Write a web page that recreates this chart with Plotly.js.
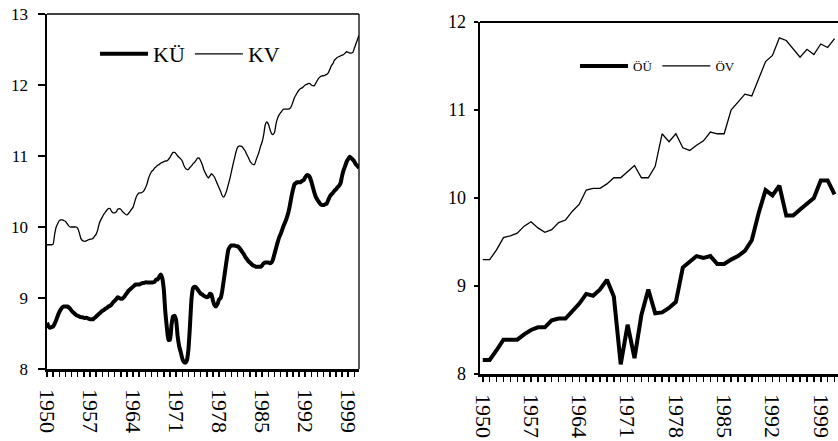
<!DOCTYPE html>
<html>
<head>
<meta charset="utf-8">
<script src="https://cdn.plot.ly/plotly-3.0.1.min.js"></script>
<style>html,body{margin:0;padding:0;background:#fff;}#chart{width:838px;height:441px;}</style>
</head>
<body>
<div id="chart"></div>
<script>
// Quarterly series (left panel), 1950Q1 .. 2000Q4
const quarterStartYear = 1950;
const quarterEndYear = 2000;
const KU = [
  8.65,8.60,8.58,8.59, 8.60,8.64,8.69,8.75, 8.80,8.84,8.87,8.88, 8.88,8.88,8.87,8.85,
  8.82,8.80,8.78,8.76, 8.75,8.74,8.73,8.73, 8.72,8.72,8.72,8.71, 8.70,8.70,8.70,8.72,
  8.74,8.76,8.78,8.80, 8.82,8.83,8.85,8.86, 8.88,8.89,8.91,8.94, 8.96,8.98,9.01,9.00,
  8.99,8.99,9.01,9.04, 9.07,9.10,9.12,9.14, 9.16,9.18,9.19,9.19, 9.19,9.20,9.21,9.21,
  9.22,9.22,9.22,9.22, 9.22,9.22,9.23,9.26, 9.26,9.30,9.33,9.28, 9.12,8.80,8.58,8.41,
  8.41,8.62,8.74,8.75, 8.69,8.46,8.32,8.24, 8.15,8.10,8.09,8.12, 8.27,8.60,8.98,9.14,
  9.16,9.15,9.12,9.09, 9.06,9.05,9.03,9.02, 9.01,9.02,9.06,9.05, 8.96,8.90,8.88,8.92,
  8.98,9.00,9.10,9.25, 9.40,9.55,9.68,9.72, 9.74,9.74,9.74,9.73, 9.73,9.71,9.68,9.65,
  9.62,9.58,9.55,9.52, 9.50,9.48,9.46,9.45, 9.44,9.44,9.44,9.44, 9.46,9.49,9.50,9.50,
  9.50,9.49,9.50,9.54, 9.62,9.70,9.78,9.85, 9.90,9.96,10.02,10.07, 10.13,10.20,10.30,10.42,
  10.52,10.60,10.62,10.63, 10.63,10.63,10.65,10.66, 10.70,10.73,10.73,10.70, 10.64,10.56,10.48,10.42,
  10.38,10.35,10.32,10.31, 10.31,10.32,10.33,10.38, 10.43,10.46,10.48,10.51, 10.53,10.56,10.58,10.62,
  10.72,10.80,10.86,10.92, 10.96,10.99,10.97,10.95, 10.92,10.88,10.86,10.83
];
const KV = [
  9.75,9.75,9.75,9.75, 9.76,9.90,10.00,10.05, 10.09,10.10,10.10,10.09, 10.08,10.05,10.02,10.00,
  10.00,10.00,10.00,10.00, 9.98,9.92,9.84,9.81, 9.80,9.80,9.81,9.82, 9.83,9.83,9.84,9.87,
  9.90,9.96,10.05,10.10, 10.14,10.18,10.21,10.24, 10.26,10.26,10.22,10.20, 10.20,10.21,10.25,10.26,
  10.25,10.22,10.20,10.18, 10.17,10.19,10.22,10.25, 10.28,10.35,10.42,10.46, 10.48,10.48,10.49,10.51,
  10.55,10.60,10.68,10.74, 10.78,10.80,10.83,10.85, 10.87,10.88,10.90,10.91, 10.92,10.93,10.93,10.95,
  10.98,11.02,11.05,11.05, 11.03,11.00,10.98,10.96, 10.93,10.87,10.83,10.81, 10.81,10.84,10.86,10.89,
  10.91,10.94,10.97,10.97, 10.93,10.88,10.81,10.76, 10.72,10.69,10.72,10.75, 10.73,10.70,10.65,10.60,
  10.55,10.50,10.44,10.42, 10.46,10.52,10.60,10.68, 10.78,10.88,10.97,11.06, 11.12,11.14,11.14,11.13,
  11.10,11.07,11.02,10.98, 10.93,10.90,10.88,10.88, 10.94,11.00,11.06,11.14, 11.20,11.30,11.44,11.48,
  11.45,11.38,11.32,11.30, 11.33,11.45,11.53,11.58, 11.61,11.64,11.66,11.66, 11.66,11.66,11.67,11.70,
  11.76,11.82,11.86,11.90, 11.93,11.95,11.96,11.98, 12.00,12.01,12.02,12.02, 12.00,11.99,11.99,12.03,
  12.07,12.10,12.12,12.13, 12.13,12.14,12.15,12.17, 12.22,12.27,12.30,12.35, 12.37,12.39,12.40,12.41,
  12.42,12.43,12.45,12.47, 12.46,12.45,12.45,12.46, 12.52,12.58,12.64,12.70
];

// Annual series (right panel), 1950 .. 2001
const annualYears = [1950,1951,1952,1953,1954,1955,1956,1957,1958,1959,1960,1961,1962,1963,1964,1965,1966,1967,1968,1969,1970,1971,1972,1973,1974,1975,1976,1977,1978,1979,1980,1981,1982,1983,1984,1985,1986,1987,1988,1989,1990,1991,1992,1993,1994,1995,1996,1997,1998,1999,2000,2001];
const OU = [8.16,8.16,8.27,8.39,8.39,8.39,8.45,8.50,8.53,8.53,8.61,8.63,8.63,8.71,8.80,8.91,8.89,8.96,9.07,8.88,8.11,8.56,8.18,8.67,8.96,8.69,8.70,8.75,8.82,9.21,9.28,9.34,9.32,9.34,9.25,9.25,9.30,9.34,9.40,9.52,9.83,10.09,10.03,10.14,9.80,9.80,9.87,9.94,10.00,10.20,10.20,10.04];
const OV = [9.30,9.30,9.41,9.55,9.57,9.60,9.68,9.73,9.66,9.61,9.64,9.72,9.75,9.85,9.93,10.09,10.11,10.11,10.16,10.23,10.23,10.30,10.37,10.23,10.23,10.36,10.73,10.64,10.73,10.57,10.54,10.60,10.65,10.75,10.73,10.73,11.00,11.09,11.18,11.16,11.36,11.55,11.62,11.82,11.79,11.70,11.60,11.69,11.63,11.75,11.71,11.81];

const tickYears = [1950,1957,1964,1971,1978,1985,1992,1999];

// quarter categories
const quarterX = [];
for (let y = quarterStartYear; y <= quarterEndYear; y++) {
  for (let q = 0; q < 4; q++) quarterX.push(y + q / 4);
}

const FONT = '"Liberation Serif", "DejaVu Serif", serif';
const W = 838, H = 441;

const traces = [
  {x: quarterX, y: KU, name: 'KÜ', type: 'scatter', mode: 'lines',
   line: {color: '#000', width: 4, shape: 'spline', smoothing: 0.5},
   xaxis: 'x', yaxis: 'y', legend: 'legend', hoverinfo: 'skip'},
  {x: quarterX, y: KV, name: 'KV', type: 'scatter', mode: 'lines',
   line: {color: '#000', width: 1.3, shape: 'spline', smoothing: 0.5},
   xaxis: 'x', yaxis: 'y', legend: 'legend', hoverinfo: 'skip'},
  {x: annualYears, y: OU, name: 'ÖÜ', type: 'scatter', mode: 'lines',
   line: {color: '#000', width: 4},
   xaxis: 'x2', yaxis: 'y2', legend: 'legend2', hoverinfo: 'skip'},
  {x: annualYears, y: OV, name: 'ÖV', type: 'scatter', mode: 'lines',
   line: {color: '#000', width: 1.3},
   xaxis: 'x2', yaxis: 'y2', legend: 'legend2', hoverinfo: 'skip'}
];

const xCommon = {
  showline: true, linecolor: '#000', linewidth: 2.5,
  ticks: 'outside', ticklen: 5, tickwidth: 1.5, tickcolor: '#000',
  tickmode: 'array', tickvals: tickYears, ticktext: tickYears.map(String),
  tickangle: 90, tickfont: {family: FONT, size: 22, color: '#000'},
  minor: {dtick: 1, tick0: 1950, ticks: 'outside', ticklen: 5, tickwidth: 1.5, tickcolor: '#000'},
  showgrid: false, zeroline: false, ticklabelstandoff: 8
};

const layout = {
  width: W, height: H,
  margin: {l: 0, r: 0, t: 0, b: 0},
  paper_bgcolor: '#fff', plot_bgcolor: 'rgba(0,0,0,0)',
  font: {family: FONT, color: '#000'},
  showlegend: true,
  xaxis: Object.assign({}, xCommon, {
    domain: [47 / W, 359 / W], range: [1950, 2000.75], anchor: 'y'
  }),
  yaxis: {
    domain: [72 / H, 427 / H], range: [8, 13], anchor: 'x',
    showline: true, linecolor: '#000', linewidth: 2.5,
    ticks: 'outside', ticklen: 7, tickwidth: 1.2, tickcolor: '#000',
    dtick: 1, tick0: 8, tickfont: {family: FONT, size: 17, color: '#000'},
    showgrid: false, zeroline: false, ticklabelstandoff: 6
  },
  xaxis2: Object.assign({}, xCommon, {
    domain: [480 / W, 1], range: [1949.6, 2001.5], anchor: 'y2'
  }),
  yaxis2: {
    domain: [67 / H, 419 / H], range: [8, 12], anchor: 'x2',
    showline: true, linecolor: '#000', linewidth: 2.5,
    ticks: 'outside', ticklen: 4, tickwidth: 1.2, tickcolor: '#000',
    dtick: 1, tick0: 8, tickfont: {family: FONT, size: 18, color: '#000'},
    showgrid: false, zeroline: false, ticklabelstandoff: 4
  },
  shapes: [
    {type: 'line', xref: 'x domain', yref: 'y domain', x0: 0, x1: 1, y0: 1, y1: 1, line: {color: '#000', width: 1.3}},
    {type: 'line', xref: 'x domain', yref: 'y domain', x0: 1, x1: 1, y0: 0, y1: 1, line: {color: '#000', width: 1.3}},
    {type: 'line', xref: 'x2 domain', yref: 'y2 domain', x0: 0, x1: 1, y0: 1, y1: 1, line: {color: '#000', width: 2}}
  ],
  legend: {
    x: 95 / W, y: 1 - 54 / H, xanchor: 'left', yanchor: 'middle',
    orientation: 'h', bgcolor: 'rgba(0,0,0,0)', borderwidth: 0,
    font: {family: FONT, size: 22, color: '#000'}, itemwidth: 48, tracegroupgap: 0
  },
  legend2: {
    x: 575 / W, y: 1 - 66 / H, xanchor: 'left', yanchor: 'middle',
    orientation: 'h', bgcolor: 'rgba(0,0,0,0)', borderwidth: 0,
    font: {family: FONT, size: 13, color: '#000'}, itemwidth: 48, tracegroupgap: 0
  }
};

Plotly.newPlot('chart', traces, layout, {staticPlot: true, displayModeBar: false});
</script>
</body>
</html>
